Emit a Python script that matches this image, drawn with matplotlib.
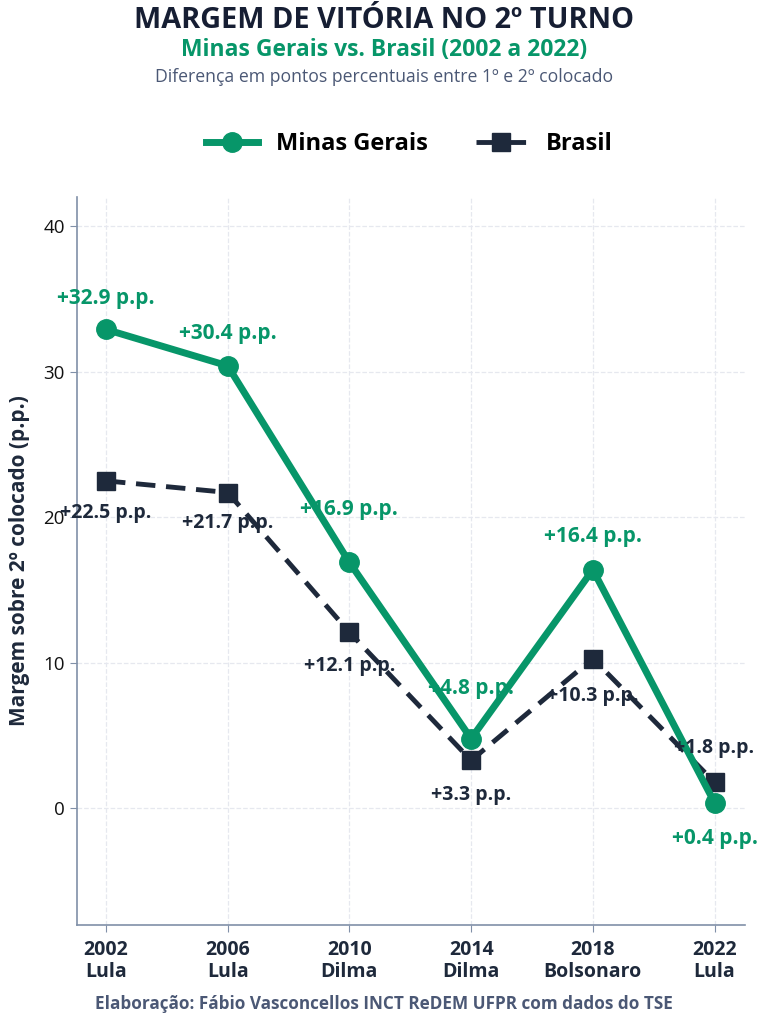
import matplotlib.pyplot as plt
import numpy as np

plt.rcParams['font.family'] = ['Open Sans', 'DejaVu Sans']

# dados
anos = ['2002', '2006', '2010', '2014', '2018', '2022']
vencedores = ['Lula', 'Lula', 'Dilma', 'Dilma', 'Bolsonaro', 'Lula']
minas = [32.9, 30.4, 16.9, 4.8, 16.4, 0.4]
brasil = [22.5, 21.7, 12.1, 3.3, 10.3, 1.8]

# offsets dos rótulos (pontos)
off_minas = [(0, 22), (0, 23), (0, 38), (0, 36), (0, 24), (0, -26)]
off_brasil = [(0, -23), (0, -22), (0, -24), (0, -25), (0, -27), (0, 25)]

VERDE = '#079669'
AZUL = '#1e293b'
CINZA = '#4b5875'

fig = plt.figure(figsize=(7.68, 10.24), dpi=100)
ax = fig.add_axes([0.100, 0.0967, 0.870, 0.711])

x = np.arange(len(anos))
ax.plot(x, minas, color=VERDE, lw=5, marker='o', ms=14, label='Minas Gerais', zorder=3)
ax.plot(x, brasil, color=AZUL, lw=3.5, ls=(0, (4, 2.2)), marker='s', ms=13,
        label='Brasil', zorder=2)

for i, v in enumerate(minas):
    ax.annotate(f'+{v:.1f} p.p.', (x[i], v), xytext=off_minas[i], textcoords='offset points',
                ha='center', va='center', color=VERDE, fontsize=15, fontweight='bold', zorder=5)
for i, v in enumerate(brasil):
    ax.annotate(f'+{v:.1f} p.p.', (x[i], v), xytext=off_brasil[i], textcoords='offset points',
                ha='center', va='center', color=AZUL, fontsize=14, fontweight='bold', zorder=5)

ax.set_xlim(-0.24, 5.25)
ax.set_ylim(-8, 42)
ax.set_yticks([0, 10, 20, 30, 40])
ax.set_xticks(x)
ax.set_xticklabels([f'{a}\n{v}' for a, v in zip(anos, vencedores)],
                   fontsize=14, fontweight='bold', color=AZUL, linespacing=1.1)
ax.tick_params(axis='y', labelsize=13.5, colors='#111111', length=5, color='#8090a8')
ax.tick_params(axis='x', length=5, color='#8090a8', pad=6)
ax.grid(True, ls='--', color='#e6e8ef', lw=0.9)
ax.set_axisbelow(True)
for s in ['top', 'right']:
    ax.spines[s].set_visible(False)
for s in ['left', 'bottom']:
    ax.spines[s].set_color('#8090a8')
    ax.spines[s].set_linewidth(1.2)
ax.set_ylabel('Margem sobre 2º colocado (p.p.)', fontsize=15, fontweight='bold',
              color=AZUL, labelpad=10)

fig.text(0.5, 0.980, 'MARGEM DE VITÓRIA NO 2º TURNO', ha='center', va='center',
         fontsize=20.8, fontweight='bold', color='#161e33')
fig.text(0.5, 0.951, 'Minas Gerais vs. Brasil (2002 a 2022)', ha='center', va='center',
         fontsize=16.5, fontweight='bold', color=VERDE)
fig.text(0.5, 0.925, 'Diferença em pontos percentuais entre 1º e 2º colocado', ha='center',
         va='center', fontsize=12.7, color=CINZA)
fig.text(0.5, 0.020, 'Elaboração: Fábio Vasconcellos INCT ReDEM UFPR com dados do TSE',
         ha='center', va='center', fontsize=12.3, fontweight='bold', color=CINZA)

fig.legend(loc='center', bbox_to_anchor=(0.533, 0.859), ncol=2, frameon=False,
           prop={'size': 17, 'weight': 'bold'}, handlelength=2.2, columnspacing=2.0,
           markerscale=1.0)

fig.savefig('out.png', dpi=100)
